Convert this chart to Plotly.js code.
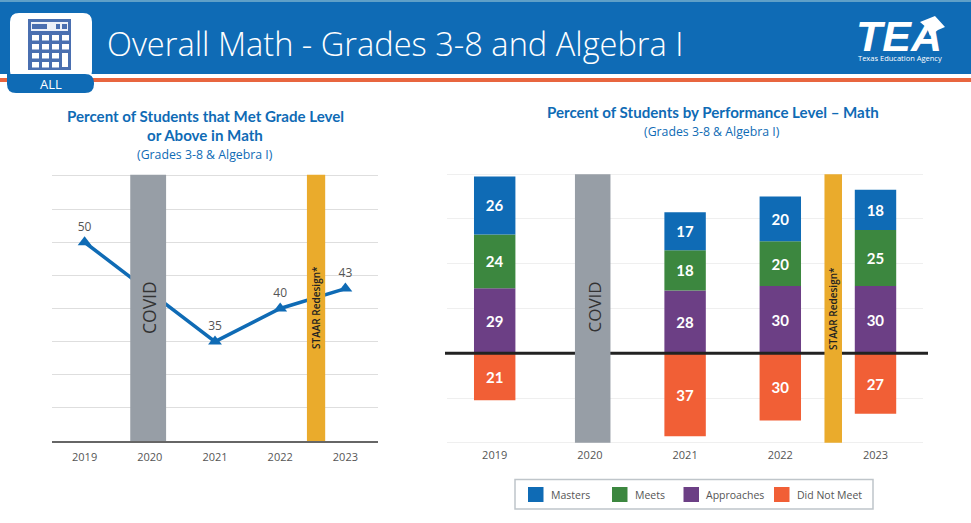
<!DOCTYPE html>
<html><head><meta charset="utf-8">
<script src="https://cdn.plot.ly/plotly-3.0.1.min.js"></script>
<style>html,body{margin:0;padding:0;background:#fff}#c{width:971px;height:523px}</style>
</head><body><div id="c"></div>
<script>
const W = 971, H = 523;
const years = ['2019','2020','2021','2022','2023'];
const metGrade = [50,null,35,40,43];
const metGradeLabels = ['50','','35','40','43'];
const masters = [26,null,17,20,18];
const meets = [24,null,18,20,25];
const approaches = [29,null,28,30,30];
const didNotMeet = [21,null,37,30,27];
const legendNames = ['Masters','Meets','Approaches','Did Not Meet'];
const BLUE='#0F6BB5', GREEN='#3C873F', PURPLE='#6C3F85', ORANGE='#F15F36', GRAY='#979EA6', GOLD='#EAAB2C', FONT='"Open Sans", sans-serif', LATO='Lato, sans-serif';
const legendColors = [BLUE,GREEN,PURPLE,ORANGE];
const legendSwatchX = [528,612,683.5,774];
const legendTextX = [549,632.5,704,795];
const px = v => v/W, py = v => 1-v/H;
const rect = (x0,y0,x1,y1,c) => ({type:'rect',xref:'paper',yref:'paper',x0:px(x0),x1:px(x1),y0:py(y0),y1:py(y1),fillcolor:c,line:{width:0},layer:'above'});
const P = (x,y)=>`${px(x).toFixed(5)},${py(y).toFixed(5)}`;
const rrect = (x0,y0,x1,y1,r,c,tl=true,bl=true) => ({type:'path',xref:'paper',yref:'paper',fillcolor:c,line:{width:0},layer:'above',
  path:`M${P(x0+(tl?r:0),y0)} L${P(x1-r,y0)} Q${P(x1,y0)} ${P(x1,y0+r)} L${P(x1,y1-r)} Q${P(x1,y1)} ${P(x1-r,y1)} L${P(x0+(bl?r:0),y1)} ${bl?`Q${P(x0,y1)} ${P(x0,y1-r)}`:''} L${P(x0,y0+(tl?r:0))} ${tl?`Q${P(x0,y0)} ${P(x0+r,y0)}`:''} Z`});
const band = (xa,ya,x0,x1,y0,y1,c)=>({type:'rect',xref:xa,yref:ya,x0,x1,y0,y1,fillcolor:c,line:{width:0},layer:'above'});
const shapes = [
  rect(0,2,W,74,BLUE), rect(0,0,W,2,'#5FA0C8'), rect(0,78,W,82,'#E8653F'),
  rrect(10,13,92,80,9,'#fff'),
  rrect(7,74,94,93,9,BLUE,false,true),
  rect(28,19,71,70,'#4A6FB0'), rect(31,22,68,31,'#EDF1F8'), rect(32,24,47,29,'#4A6FB0'),
  rect(56,24,60,29,'#4A6FB0'), rect(62,24,67,29,'#4A6FB0'),
  {type:'path',xref:'paper',yref:'paper',fillcolor:'#fff',line:{width:0},layer:'above',path:`M${P(920,22)} L${P(935,16)} L${P(945,27)} L${P(938,30)} L${P(930,36)} L${P(927,28)} Z`}
];
const kx=[32,42,52,62], ky=[35,44,53,62];
ky.forEach((y,j)=>kx.forEach((x,i)=>{ if(!(i===3&&j>=2)) shapes.push(rect(x,y,x+7,y+5.5,'#fff')); }));
shapes.push(rect(62,53,68,67,'#fff'));
shapes.push(
  band('x','y',0.70,1.25,20,60.2,GRAY), band('x','y',3.41,3.69,20,60.2,GOLD),
  {type:'line',xref:'paper',yref:'y2',x0:px(445),x1:px(928),y0:0,y1:0,line:{color:'#222',width:3},layer:'above'},
  band('x2','y2',0.843,1.216,-40,80,GRAY), band('x2','y2',3.464,3.648,-40,80,GOLD)
);
shapes.push({type:'rect',xref:'paper',yref:'paper',x0:px(515),x1:px(873),y0:py(479.5),y1:py(509),fillcolor:'#fff',line:{color:'#BFC5CA',width:1.5}});
legendSwatchX.forEach((x,i)=>shapes.push(rect(x,487,x+15.5,502,legendColors[i])));
const ann = (x,y,text,size,color,extra={}) => Object.assign({xref:'paper',yref:'paper',x:px(x),y:py(y),text,showarrow:false,xanchor:'center',yanchor:'middle',font:{family:FONT,size,color}},extra);
const annotations = [
  ann(105,43,'Overall Math - Grades 3-8 and Algebra I',32.6,'#fff',{xanchor:'left',font:{family:FONT,size:32.6,color:'#fff',weight:300}}),
  ann(51,83.5,'ALL',13,'#fff'),
  ann(899,36,'<b><i>TEA</i></b>',43,'#fff',{font:{family:'"Liberation Sans", sans-serif',size:43,color:'#fff'}}),
  ann(900,58,'Texas Education Agency',7.5,'#fff'),
  ann(205,116,'<b>Percent of Students that Met Grade Level</b>',15.1,BLUE,{font:{family:LATO,size:15.1,color:BLUE}}),
  ann(205,135.5,'<b>or Above in Math</b>',15.1,BLUE,{font:{family:LATO,size:15.1,color:BLUE}}),
  ann(205,154.5,'(Grades 3-8 &amp; Algebra I)',12.3,BLUE),
  ann(712.5,112,'<b>Percent of Students by Performance Level – Math</b>',15.1,BLUE,{font:{family:LATO,size:15.1,color:BLUE}}),
  ann(712,131,'(Grades 3-8 &amp; Algebra I)',12.3,BLUE),
  ann(148.5,307.5,'COVID',17.5,'#333'),
  ann(316,308,'STAAR Redesign*',10,'#222',{textangle:-90,font:{family:FONT,size:10,color:'#222',weight:600}}),
  ann(594,307.5,'COVID',17,'#333'),
  ann(833,309,'STAAR Redesign*',10,'#222',{textangle:-90,font:{family:FONT,size:10,color:'#222',weight:600}})
];
annotations[9].textangle = -90; annotations[11].textangle = -90;
legendNames.forEach((n,i)=>annotations.push(ann(legendTextX[i],495,n,10.5,'#555',{xanchor:'left'})));
const barTrace = (name,vals,color,sign=1)=>({type:'bar',name,x:years,y:vals.map(v=>v==null?null:v*sign),xaxis:'x2',yaxis:'y2',
  width:0.435,marker:{color,line:{width:0}},text:vals.map(v=>v==null?'':String(v)),textposition:'inside',insidetextanchor:'middle',
  textangle:0,textfont:{family:LATO,size:15,color:'#fff',weight:700},constraintext:'none',showlegend:false,hoverinfo:'skip'});
const data = [
  {type:'scatter',mode:'lines+markers+text',x:years,y:metGrade,connectgaps:true,text:metGradeLabels,textposition:'top center',
   textfont:{family:FONT,size:12,color:'#555'},line:{color:BLUE,width:3.5},marker:{symbol:'triangle-up',size:12,color:BLUE},showlegend:false,xaxis:'x',yaxis:'y',hoverinfo:'skip'},
  barTrace('Approaches',approaches,PURPLE), barTrace('Meets',meets,GREEN), barTrace('Masters',masters,BLUE), barTrace('Did Not Meet',didNotMeet,ORANGE,-1)
];
const tick = {family:FONT,size:11,color:'#555'};
const layout = {
  width:W,height:H,margin:{l:0,r:0,t:0,b:0},paper_bgcolor:'#fff',plot_bgcolor:'#fff',barmode:'relative',bargap:0.56,showlegend:false,
  font:{family:FONT},shapes,annotations,
  xaxis:{domain:[px(52),px(378)],type:'category',categoryorder:'array',categoryarray:years,range:[-0.5,4.5],anchor:'y',tickfont:tick,ticks:'',showgrid:false,showline:true,linecolor:'#666',linewidth:2,zeroline:false,ticklabelstandoff:5},
  yaxis:{domain:[py(441),py(174)],range:[20,60.3],dtick:5,tick0:20,anchor:'x',showticklabels:false,gridcolor:'#DEDEDE',gridwidth:1,zeroline:false,showline:false,ticks:''},
  xaxis2:{domain:[px(447.1),px(923.1)],type:'category',categoryorder:'array',categoryarray:years,range:[-0.5,4.5],anchor:'y2',tickfont:tick,ticks:'',showgrid:false,showline:false,zeroline:false,ticklabelstandoff:2},
  yaxis2:{domain:[py(445.1),py(171.9)],range:[-41,81],dtick:20,tick0:0,anchor:'x2',showticklabels:false,gridcolor:'#EFEFEF',gridwidth:1,zeroline:false,showline:false,ticks:''}
};
Plotly.newPlot('c',data,layout,{displayModeBar:false,staticPlot:true});
</script></body></html>
